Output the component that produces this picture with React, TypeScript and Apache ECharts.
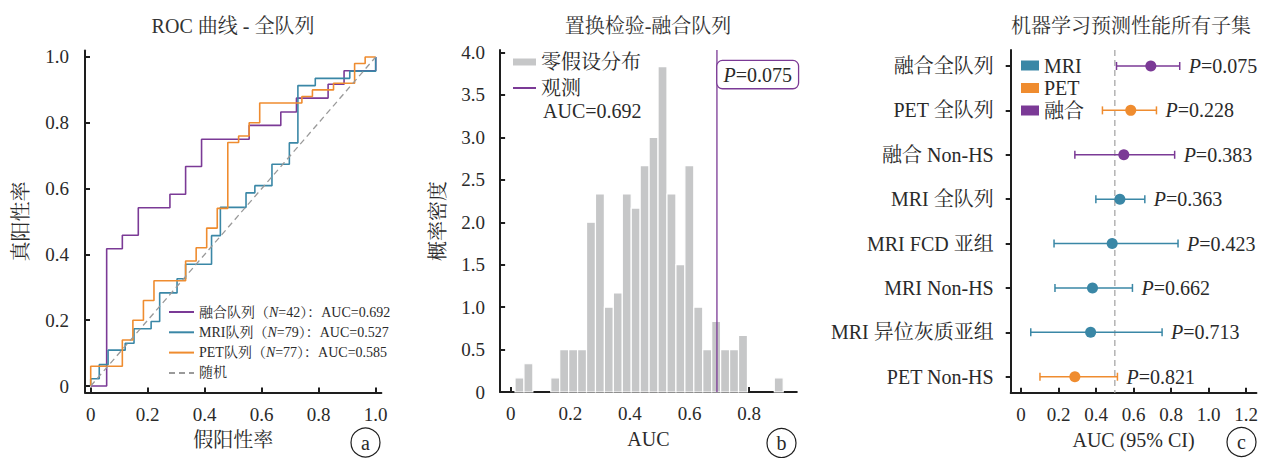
import React, { useEffect, useRef } from 'react';
import * as echarts from 'echarts';

const FONT = '"Liberation Serif", "Noto Serif CJK SC", "Noto Sans CJK SC", serif';
const TXT = '#2a2a2a';
const AXIS = '#1e1e1e';
const C_PURPLE = '#7B3A96';
const C_BLUE = '#3A87A6';
const C_ORANGE = '#EF8C2F';
const C_HIST = '#c6c7c8';
const NOFILL = 'rgba(0,0,0,0)';

// ---------- Panel a: ROC (step points, horizontal then vertical) ----------
const rocFusionFpr = [0, 0.056, 0.111, 0.167, 0.278, 0.333, 0.389, 0.556, 0.667, 0.722, 0.833, 0.889, 1.0];
const rocFusionTpr = [0, 0.417, 0.458, 0.542, 0.583, 0.667, 0.75, 0.792, 0.833, 0.875, 0.917, 0.958, 1.0];
const rocMriFpr = [0, 0, 0.03, 0.061, 0.121, 0.152, 0.212, 0.242, 0.303, 0.333, 0.424, 0.455, 0.545, 0.576, 0.636, 0.697, 0.727, 0.788, 0.909, 1.0];
const rocMriTpr = [0, 0.022, 0.065, 0.109, 0.13, 0.174, 0.196, 0.283, 0.326, 0.37, 0.457, 0.543, 0.587, 0.609, 0.674, 0.739, 0.913, 0.935, 0.957, 1.0];
const rocPetFpr = [0, 0, 0.111, 0.148, 0.185, 0.222, 0.333, 0.37, 0.407, 0.444, 0.481, 0.519, 0.556, 0.593, 0.741, 0.778, 0.852, 0.926, 0.963, 1.0];
const rocPetTpr = [0, 0.06, 0.14, 0.2, 0.26, 0.32, 0.38, 0.42, 0.48, 0.54, 0.74, 0.76, 0.8, 0.86, 0.88, 0.9, 0.92, 0.98, 1.0, 1.0];
const rocNames = ['融合队列', 'MRI队列', 'PET队列'];
const rocN = [42, 79, 77];
const rocAuc = ['0.692', '0.527', '0.585'];
const randomName = '随机';
const ticks01 = [0, 0.2, 0.4, 0.6, 0.8, 1.0];

// ---------- Panel b: permutation histogram ----------
const histStart = 0.0144;
const histBinWidth = 0.03;
const histDensity = [0.167, 0.333, 0, 0, 0.167, 0.5, 0.5, 0.5, 2.0, 2.333, 1.0, 1.167, 2.333, 2.167, 2.667, 3.0, 3.833, 2.333, 1.5, 2.667, 1.0, 0.5, 0.833, 0.5, 0.5, 0.667, 0, 0, 0, 0.167];
const observedAuc = 0.692;
const observedP = '0.075';
const histXTicks = [0, 0.2, 0.4, 0.6, 0.8];
const histYTicks = [0, 0.5, 1.0, 1.5, 2.0, 2.5, 3.0, 3.5, 4.0];
const histYMax = 4.03;

// ---------- Panel c: forest plot ----------
const forestRows = ['融合全队列', 'PET 全队列', '融合 Non-HS', 'MRI 全队列', 'MRI FCD 亚组', 'MRI Non-HS', 'MRI 异位灰质亚组', 'PET Non-HS'];
const forestModality = ['融合', 'PET', '融合', 'MRI', 'MRI', 'MRI', 'MRI', 'PET'];
const forestAuc = [0.692, 0.585, 0.548, 0.527, 0.486, 0.381, 0.371, 0.287];
const forestLo = [0.509, 0.434, 0.287, 0.399, 0.176, 0.181, 0.052, 0.101];
const forestHi = [0.846, 0.722, 0.819, 0.66, 0.837, 0.594, 0.752, 0.514];
const forestP = ['0.075', '0.228', '0.383', '0.363', '0.423', '0.662', '0.713', '0.821'];
const modalities = ['MRI', 'PET', '融合'];
const modalityColors = [C_BLUE, C_ORANGE, C_PURPLE];
const forestXTicks = [0, 0.2, 0.4, 0.6, 0.8, 1.0, 1.2];
const chanceAuc = 0.5;
const forestYMin = -0.36;
const forestYMax = 7.36;

const fmt1 = (v: number) => (Math.abs(v) < 1e-9 ? '0' : v.toFixed(1));
const zip = (a: number[], b: number[]) => a.map((x, i) => [x, b[i]]);

const TICK_FS = 19;

function axisBase() {
  return {
    axisLine: { show: true, onZero: false, lineStyle: { color: AXIS, width: 2 } },
    splitLine: { show: false },
    nameTextStyle: { color: TXT, fontSize: 20, fontFamily: FONT },
    nameLocation: 'middle' as const,
  };
}
const tick = (inside: boolean, values: number[]) => ({
  show: true, inside, length: 5, lineStyle: { color: AXIS, width: 2 }, customValues: values,
});
const label = (values: number[], margin: number, formatter: any = fmt1, fontSize = TICK_FS) => ({
  customValues: values, formatter, color: TXT, fontSize, fontFamily: FONT, margin,
});

function buildOption(): any {
  const richSmall = {
    t: { fontSize: 14, fontFamily: FONT, color: TXT },
    i: { fontSize: 14, fontFamily: FONT, color: TXT, fontStyle: 'italic' },
  };
  const rocColors = [C_PURPLE, C_BLUE, C_ORANGE];
  const rocData = [zip(rocFusionFpr, rocFusionTpr), zip(rocMriFpr, rocMriTpr), zip(rocPetFpr, rocPetTpr)];

  const series: any[] = [];
  rocNames.forEach((n, k) => {
    series.push({
      type: 'line', name: n, xAxisIndex: 0, yAxisIndex: 0, data: rocData[k], step: 'end',
      symbol: 'none', lineStyle: { color: rocColors[k], width: 1.6 },
      itemStyle: { color: NOFILL, borderColor: NOFILL }, z: 3,
    });
  });
  series.push({
    type: 'line', name: randomName, xAxisIndex: 0, yAxisIndex: 0, data: [[0, 0], [1, 1]], symbol: 'none',
    lineStyle: { color: '#9a9a9a', width: 1.3, type: [6, 4] },
    itemStyle: { color: NOFILL, borderColor: NOFILL }, z: 4,
  });

  // histogram
  series.push({
    type: 'custom', name: '零假设分布', xAxisIndex: 1, yAxisIndex: 1, clip: false,
    itemStyle: { color: C_HIST },
    data: histDensity.map((d, i) => [histStart + i * histBinWidth, histStart + (i + 1) * histBinWidth, d]),
    encode: { x: [0, 1], y: 2 },
    renderItem: (params: any, api: any) => {
      const h = api.value(2);
      if (!(h > 0)) return null;
      const p0 = api.coord([api.value(0), h]);
      const p1 = api.coord([api.value(1), 0]);
      return {
        type: 'rect',
        shape: { x: p0[0], y: p0[1], width: p1[0] - p0[0], height: p1[1] - p0[1] },
        style: { fill: C_HIST, stroke: '#ffffff', lineWidth: 1.2 },
      };
    },
    z: 2,
  });
  series.push({
    type: 'line', name: '观测', xAxisIndex: 1, yAxisIndex: 1,
    data: [[observedAuc, 0], [observedAuc, histYMax]], symbol: 'none',
    lineStyle: { color: C_PURPLE, width: 1.3 }, itemStyle: { color: NOFILL, borderColor: NOFILL }, z: 3,
    markPoint: {
      symbol: 'circle', symbolSize: 1, itemStyle: { color: NOFILL }, silent: true,
      data: [{ coord: [observedAuc, 3.74] }],
      label: {
        show: true, position: 'right', distance: 0,
        formatter: `{i|P}{n|=${observedP}}`,
        backgroundColor: '#ffffff', borderColor: C_PURPLE, borderWidth: 1.3, borderRadius: 5,
        padding: [4, 6, 3, 6],
        rich: {
          i: { fontSize: 20, fontFamily: FONT, color: TXT, fontStyle: 'italic' },
          n: { fontSize: 20, fontFamily: FONT, color: TXT },
        },
      },
    },
  });

  // forest reference line
  series.push({
    type: 'line', name: '_chance', xAxisIndex: 2, yAxisIndex: 2,
    data: [[chanceAuc, forestYMin], [chanceAuc, forestYMax]], symbol: 'none',
    lineStyle: { color: '#b3b3b3', width: 1.5, type: [6, 4] }, z: 1, silent: true,
  });
  modalities.forEach((m, k) => {
    const rows: number[][] = [];
    forestModality.forEach((mm, r) => {
      if (mm === m) rows.push([r, forestLo[r], forestHi[r], forestAuc[r]]);
    });
    const color = modalityColors[k];
    series.push({
      type: 'custom', name: m, xAxisIndex: 2, yAxisIndex: 2, clip: false, itemStyle: { color },
      data: rows, encode: { x: [1, 2, 3], y: 0 }, z: 3,
      renderItem: (params: any, api: any) => {
        const row = api.value(0);
        const pLo = api.coord([api.value(1), row]);
        const pHi = api.coord([api.value(2), row]);
        const pM = api.coord([api.value(3), row]);
        const cap = 4;
        const ls = { stroke: color, lineWidth: 1.5 };
        return {
          type: 'group',
          children: [
            { type: 'line', shape: { x1: pLo[0], y1: pLo[1], x2: pHi[0], y2: pHi[1] }, style: ls },
            { type: 'line', shape: { x1: pLo[0], y1: pLo[1] - cap, x2: pLo[0], y2: pLo[1] + cap }, style: ls },
            { type: 'line', shape: { x1: pHi[0], y1: pHi[1] - cap, x2: pHi[0], y2: pHi[1] + cap }, style: ls },
            { type: 'circle', shape: { cx: pM[0], cy: pM[1], r: 5.5 }, style: { fill: color } },
            {
              type: 'text', x: pHi[0] + 9, y: pM[1],
              style: {
                text: `{i|P}{n|=${forestP[row]}}`,
                align: 'left', verticalAlign: 'middle', fill: TXT, fontSize: 20, fontFamily: FONT,
                rich: {
                  i: { fontSize: 20, fontFamily: FONT, fill: TXT, fontStyle: 'italic' },
                  n: { fontSize: 20, fontFamily: FONT, fill: TXT },
                },
              },
            },
          ],
        };
      },
    });
  });

  const circleLabel = (cx: number, cy: number, t: string) => [
    { type: 'circle', shape: { cx, cy, r: 14.5 }, style: { fill: 'none', stroke: AXIS, lineWidth: 1.2 } },
    { type: 'text', x: cx, y: cy, style: { text: t, align: 'center', verticalAlign: 'middle', fontSize: 20, fontFamily: FONT, fill: TXT } },
  ];
  const titleText = (x: number, t: string) => ({
    type: 'text', x, y: 26,
    style: { text: t, align: 'center', verticalAlign: 'middle', fontSize: 20, fontFamily: FONT, fill: '#333333' },
  });

  const rowIdx = [0, 1, 2, 3, 4, 5, 6, 7];

  return {
    animation: false,
    backgroundColor: '#ffffff',
    grid: [
      { left: 85, top: 50.4, width: 296.4, height: 342.2 },
      { left: 500.1, top: 50, width: 296.7, height: 342 },
      { left: 1010.7, top: 50, width: 246.3, height: 342.7 },
    ],
    xAxis: [
      {
        ...axisBase(), type: 'value', gridIndex: 0, min: -0.02, max: 1.02, name: '假阳性率', nameGap: 37,
        axisTick: tick(true, ticks01), axisLabel: label(ticks01, 12),
      },
      {
        ...axisBase(), type: 'value', gridIndex: 1, min: -0.0356, max: 0.96, name: 'AUC', nameGap: 37,
        axisTick: tick(true, histXTicks), axisLabel: label(histXTicks, 12),
      },
      {
        ...axisBase(), type: 'value', gridIndex: 2, min: -0.055, max: 1.255, name: 'AUC (95% CI)', nameGap: 37,
        axisTick: tick(true, forestXTicks), axisLabel: label(forestXTicks, 12),
      },
    ],
    yAxis: [
      {
        ...axisBase(), type: 'value', gridIndex: 0, min: -0.02, max: 1.02, name: '真阳性率', nameGap: 54,
        axisTick: tick(true, ticks01), axisLabel: label(ticks01, 16),
      },
      {
        ...axisBase(), type: 'value', gridIndex: 1, min: 0, max: histYMax, name: '概率密度', nameGap: 52,
        axisTick: tick(true, histYTicks), axisLabel: label(histYTicks, 15),
      },
      {
        ...axisBase(), type: 'value', gridIndex: 2, min: forestYMin, max: forestYMax, inverse: true,
        axisTick: tick(false, rowIdx),
        axisLabel: label(rowIdx, 17, (v: number) => forestRows[Math.round(v)] ?? '', 20),
      },
    ],
    legend: [
      {
        left: 168, top: 304, orient: 'vertical', padding: 0, itemWidth: 25, itemHeight: 12, itemGap: 4.3,
        selectedMode: false,
        data: [...rocNames, randomName],
        itemStyle: { opacity: 0 },
        formatter: (name: string) => {
          const k = rocNames.indexOf(name);
          if (k < 0) return `{t|${name}}`;
          return `{t|${name}（}{i|N}{t|=${rocN[k]}）：AUC=${rocAuc[k]}}`;
        },
        textStyle: { fontSize: 14, fontFamily: FONT, color: TXT, lineHeight: 16, rich: richSmall },
      },
      {
        left: 512, top: 51.5, orient: 'vertical', padding: 0, itemWidth: 23, itemHeight: 7, itemGap: 5,
        selectedMode: false,
        data: [
          { name: '零假设分布', icon: 'rect', itemStyle: { color: C_HIST } },
          { name: '观测', itemStyle: { opacity: 0 } },
        ],
        textStyle: { fontSize: 20, fontFamily: FONT, color: TXT, lineHeight: 21 },
      },
      {
        left: 1021, top: 55.5, orient: 'vertical', padding: 0, itemWidth: 18, itemHeight: 10, itemGap: 2.5,
        selectedMode: false,
        data: modalities.map((m, k) => ({ name: m, icon: 'rect', itemStyle: { color: modalityColors[k] } })),
        textStyle: { fontSize: 20, fontFamily: FONT, color: TXT, lineHeight: 20 },
      },
    ],
    graphic: [
      titleText(233, 'ROC 曲线 - 全队列'),
      titleText(648, '置换检验-融合队列'),
      titleText(1131, '机器学习预测性能所有子集'),
      {
        type: 'text', x: 543, y: 111,
        style: { text: `AUC=${observedAuc.toFixed(3)}`, align: 'left', verticalAlign: 'middle', fontSize: 20, fontFamily: FONT, fill: TXT },
      },
      ...circleLabel(365.5, 442.5, 'a'),
      ...circleLabel(781.5, 443, 'b'),
      ...circleLabel(1241.5, 442, 'c'),
    ],
    series,
  };
}

export default function App() {
  const ref = useRef<HTMLDivElement>(null);
  useEffect(() => {
    if (!ref.current) return;
    const chart = echarts.init(ref.current, null, { renderer: 'svg' });
    chart.setOption(buildOption());
    return () => chart.dispose();
  }, []);
  return (
    <div
      ref={ref}
      style={{ position: 'fixed', left: 0, top: 0, width: 1261, height: 458, background: '#ffffff' }}
    />
  );
}
